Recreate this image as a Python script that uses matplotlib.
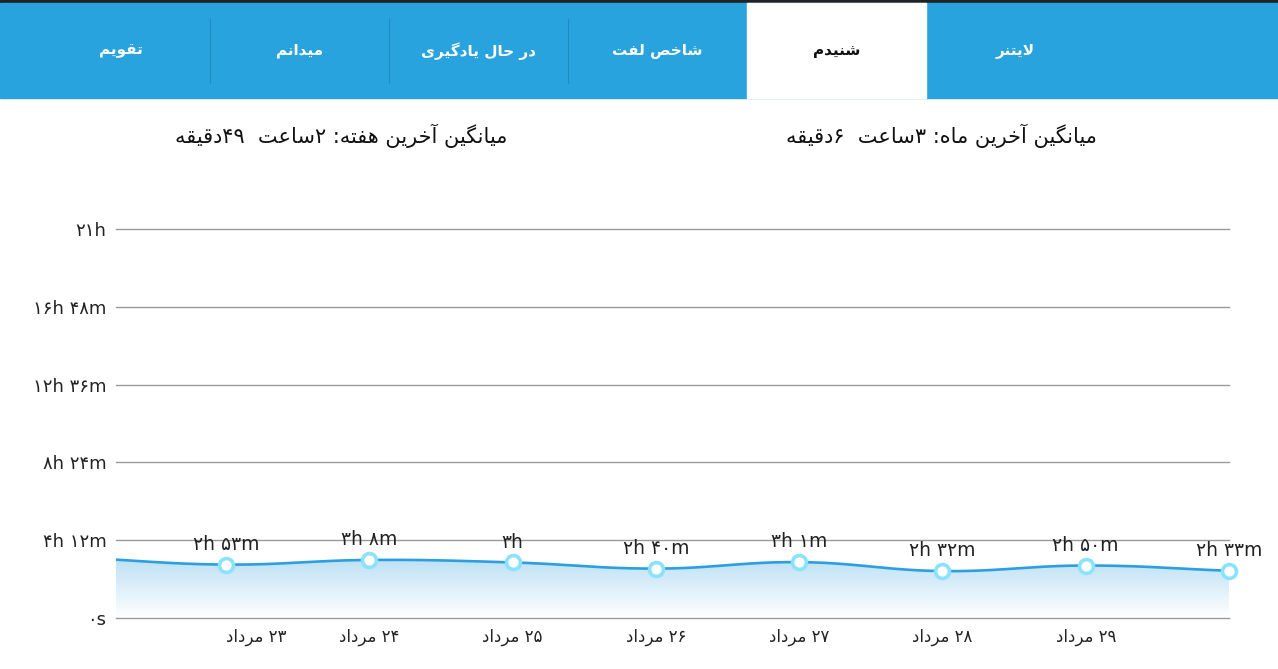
import re

import matplotlib
matplotlib.use("Agg")
import matplotlib.pyplot as plt
import numpy as np
from matplotlib.colors import LinearSegmentedColormap
from matplotlib.patches import Polygon, Rectangle

plt.rcParams["font.family"] = ["DejaVu Sans"]

# ---- data ----
TABS = ["لایتنر", "شنیدم", "شاخص لفت", "در حال یادگیری", "میدانم", "تقویم"]  # right to left
ACTIVE_TAB = "شنیدم"
WEEK_AVG = "میانگین آخرین هفته: ۲ساعت  ۴۹دقیقه"
MONTH_AVG = "میانگین آخرین ماه: ۳ساعت  ۶دقیقه"

DAYS = ["۲۳ مرداد", "۲۴ مرداد", "۲۵ مرداد", "۲۶ مرداد", "۲۷ مرداد", "۲۸ مرداد", "۲۹ مرداد", ""]
MINUTES = [173, 188, 180, 160, 181, 152, 170, 153]
VALUE_LABELS = ["۲h ۵۳m", "۳h ۸m", "۳h", "۲h ۴۰m", "۳h ۱m", "۲h ۳۲m", "۲h ۵۰m", "۲h ۳۳m"]
LEAD_MINUTES = 195  # previous day, only the tail of it shows at the left edge
Y_TICKS = [0, 252, 504, 756, 1008, 1260]
Y_TICK_LABELS = ["۰s", "۴h ۱۲m", "۸h ۲۴m", "۱۲h ۳۶m", "۱۶h ۴۸m", "۲۱h"]

# ---- minimal Persian shaping (matplotlib has no bidi / joining) ----
FORMS = {
    "ا": ("\uFE8D", "\uFE8E", None, None),
    "آ": ("\uFE81", "\uFE82", None, None),
    "د": ("\uFEA9", "\uFEAA", None, None),
    "ر": ("\uFEAD", "\uFEAE", None, None),
    "و": ("\uFEED", "\uFEEE", None, None),
    "ت": ("\uFE95", "\uFE96", "\uFE97", "\uFE98"),
    "ح": ("\uFEA1", "\uFEA2", "\uFEA3", "\uFEA4"),
    "خ": ("\uFEA5", "\uFEA6", "\uFEA7", "\uFEA8"),
    "س": ("\uFEB1", "\uFEB2", "\uFEB3", "\uFEB4"),
    "ش": ("\uFEB5", "\uFEB6", "\uFEB7", "\uFEB8"),
    "ص": ("\uFEB9", "\uFEBA", "\uFEBB", "\uFEBC"),
    "ع": ("\uFEC9", "\uFECA", "\uFECB", "\uFECC"),
    "ف": ("\uFED1", "\uFED2", "\uFED3", "\uFED4"),
    "ق": ("\uFED5", "\uFED6", "\uFED7", "\uFED8"),
    "ل": ("\uFEDD", "\uFEDE", "\uFEDF", "\uFEE0"),
    "م": ("\uFEE1", "\uFEE2", "\uFEE3", "\uFEE4"),
    "ن": ("\uFEE5", "\uFEE6", "\uFEE7", "\uFEE8"),
    "ه": ("\uFEE9", "\uFEEA", "\uFEEB", "\uFEEC"),
    "\u06CC": ("\uFBFC", "\uFBFD", "\uFBFE", "\uFBFF"),
    "گ": ("\uFB92", "\uFB93", "\uFB94", "\uFB95"),
}
DIGITS = "0123456789\u06F0\u06F1\u06F2\u06F3\u06F4\u06F5\u06F6\u06F7\u06F8\u06F9"


def shape(text):
    chars = list(text.replace("\u064A", "\u06CC"))
    out = []
    i = 0
    while i < len(chars):
        c = chars[i]
        if c not in FORMS:
            out.append(c)
            i += 1
            continue
        prev = chars[i - 1] if i > 0 else ""
        joins_prev = prev in FORMS and FORMS[prev][2] is not None
        if c == "ل" and i + 1 < len(chars) and chars[i + 1] == "ا":
            out.append("\uFEFC" if joins_prev else "\uFEFB")
            i += 2
            continue
        nxt = chars[i + 1] if i + 1 < len(chars) else ""
        iso, fin, ini, med = FORMS[c]
        joins_next = ini is not None and nxt in FORMS
        if joins_prev and joins_next:
            out.append(med)
        elif joins_prev:
            out.append(fin)
        elif joins_next:
            out.append(ini)
        else:
            out.append(iso)
        i += 1
    return "".join(out)


def rtl(text):
    s = shape(text)
    runs = re.findall(f"[{DIGITS}]+|[^{DIGITS}]+", s)
    return "".join(r if r[0] in DIGITS else r[::-1] for r in reversed(runs))


def smooth(px, py, tension=0.4, n=40):
    """Bezier curve through the points, control points as chart.js does."""
    pts = np.column_stack([px, py])
    k = len(pts)
    c_prev, c_next = [], []
    for i in range(k):
        p0, p1, p2 = pts[max(i - 1, 0)], pts[i], pts[min(i + 1, k - 1)]
        d01, d12 = np.hypot(*(p1 - p0)), np.hypot(*(p2 - p1))
        tot = d01 + d12
        fa = tension * (d01 / tot if tot else 0)
        fb = tension * (d12 / tot if tot else 0)
        c_prev.append(p1 - fa * (p2 - p0))
        c_next.append(p1 + fb * (p2 - p0))
    t = np.linspace(0, 1, n)[:, None]
    segs = []
    for i in range(k - 1):
        a, b, c, d = pts[i], c_next[i], c_prev[i + 1], pts[i + 1]
        seg = (1 - t) ** 3 * a + 3 * (1 - t) ** 2 * t * b + 3 * (1 - t) * t ** 2 * c + t ** 3 * d
        segs.append(seg if i == 0 else seg[1:])
    return np.vstack(segs)


# ---- figure ----
W, H = 1278, 669
fig = plt.figure(figsize=(W / 100, H / 100), dpi=100)

bg = fig.add_axes([0, 0, 1, 1])
bg.set_xlim(0, W)
bg.set_ylim(H, 0)
bg.axis("off")

# tab bar
bg.add_patch(Rectangle((0, 0), W, 3, color="#222222"))
bg.add_patch(Rectangle((0, 3), W, 95, color="#29a3de"))
tab_w = 179
right = 1105
for k, name in enumerate(TABS):
    x1 = right - k * tab_w
    x0 = x1 - tab_w
    active = name == ACTIVE_TAB
    if active:
        bg.add_patch(Rectangle((x0, 3), tab_w, 95, color="white"))
    bg.text((x0 + x1) / 2, 51, rtl(name), ha="center", va="center",
            fontsize=11, fontweight="bold", color="#111111" if active else "white")
for k in range(2, len(TABS) - 1):
    xs = right - k * tab_w - tab_w
    bg.plot([xs, xs], [19, 83], color="#1f8cc0", lw=0.8)

bg.text(341, 136, rtl(WEEK_AVG), ha="center", va="center", fontsize=15, color="#111111")
bg.text(941, 136, rtl(MONTH_AVG), ha="center", va="center", fontsize=15, color="#111111")

# chart
ax = fig.add_axes([116 / W, (H - 618) / H, (1229 - 116) / W, (618 - 229) / H])
step_px = (1229 - 226) / 7
x_left = -(226 - 116) / step_px
x_right = len(MINUTES) - 1

idx = np.arange(len(MINUTES))
xs = np.concatenate([[-1], idx])
ys = np.array([LEAD_MINUTES] + MINUTES, dtype=float)
sy = (618 - 229) / Y_TICKS[-1]
curve = smooth(xs * step_px, ys * sy)
cx, cy = curve[:, 0] / step_px, curve[:, 1] / sy
keep = cx >= x_left - 0.05
cx, cy = cx[keep], cy[keep]

cmap = LinearSegmentedColormap.from_list("fade", ["#ffffff", "#bde1f5"])
top = cy.max()
im = ax.imshow(np.linspace(1, 0, 256)[:, None], cmap=cmap, aspect="auto",
               extent=[x_left, x_right, 0, top], zorder=1, vmin=0, vmax=1)
poly = Polygon(np.vstack([np.column_stack([cx, cy]), [[cx[-1], 0], [cx[0], 0]]]),
               closed=True, facecolor="none", edgecolor="none", transform=ax.transData)
ax.add_patch(poly)
im.set_clip_path(poly)
ax.set_xlim(x_left, x_right)
ax.set_ylim(0, Y_TICKS[-1])

for yv in Y_TICKS:
    ax.axhline(yv, color="#9a9a9a", lw=1, zorder=2, clip_on=False)

ax.plot(cx, cy, color="#2b9fe0", lw=1.9, zorder=3)
ax.plot(idx, MINUTES, "o", mfc="white", mec="#8ae2fc", ms=10, mew=2.6,
        clip_on=False, zorder=4)

for i, (v, lab) in enumerate(zip(MINUTES, VALUE_LABELS)):
    ax.annotate(lab, (i, v), xytext=(0, 14.5), textcoords="offset points",
                ha="center", va="center", fontsize=13.5, color="#222222", zorder=5)

for i, day in enumerate(DAYS):
    if not day:
        continue
    ax.annotate(rtl(day), (i, 0), xycoords=("data", "axes fraction"),
                xytext=(0, -14), textcoords="offset points",
                ha="left" if i == 0 else "center", va="center",
                fontsize=12, color="#222222", annotation_clip=False)

ax.set_yticks(Y_TICKS)
ax.set_yticklabels(Y_TICK_LABELS, fontsize=13, color="#222222")
ax.set_xticks([])
ax.tick_params(axis="y", length=0, pad=7)
for sp in ax.spines.values():
    sp.set_visible(False)
ax.patch.set_alpha(0)

fig.savefig("out.png", dpi=100)
